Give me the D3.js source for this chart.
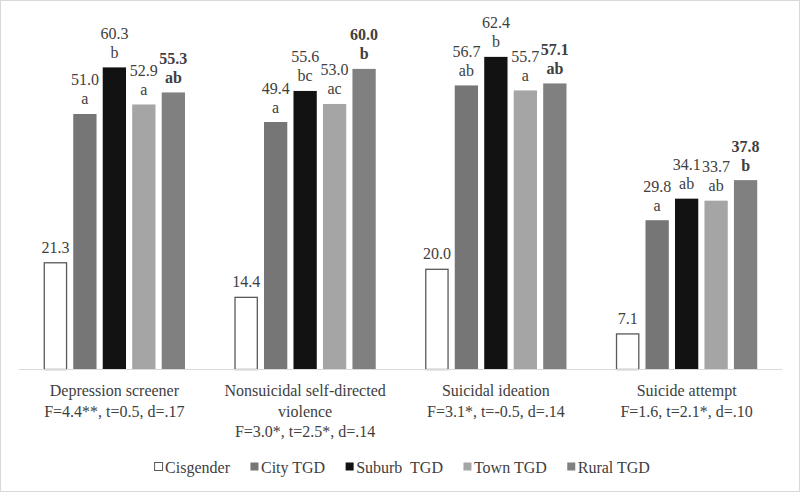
<!DOCTYPE html>
<html><head><meta charset="utf-8"><script src="https://cdn.jsdelivr.net/npm/d3@7"></script></head>
<body style="margin:0">
<svg id="s" width="800" height="492"></svg>
<script>
const categories = ["Depression screener", "Nonsuicidal self-directed violence", "Suicidal ideation", "Suicide attempt"];
const categoryLines = [
  ["Depression screener", "F=4.4**, t=0.5, d=.17"],
  ["Nonsuicidal self-directed", "violence", "F=3.0*, t=2.5*, d=.14"],
  ["Suicidal ideation", "F=3.1*, t=-0.5, d=.14"],
  ["Suicide attempt", "F=1.6, t=2.1*, d=.10"]
];
const seriesNames = ["Cisgender", "City TGD", "Suburb  TGD", "Town TGD", "Rural TGD"];
const cisgender = [21.3, 14.4, 20.0, 7.1];
const cityTGD   = [51.0, 49.4, 56.7, 29.8];
const suburbTGD = [60.3, 55.6, 62.4, 34.1];
const townTGD   = [52.9, 53.0, 55.7, 33.7];
const ruralTGD  = [55.3, 60.0, 57.1, 37.8];
const cityLetters   = ["a", "a", "ab", "a"];
const suburbLetters = ["b", "bc", "b", "ab"];
const townLetters   = ["a", "ac", "a", "ab"];
const ruralLetters  = ["ab", "b", "ab", "b"];

const seriesValues = [cisgender, cityTGD, suburbTGD, townTGD, ruralTGD];
const seriesLetters = [null, cityLetters, suburbLetters, townLetters, ruralLetters];
const fills = ["#ffffff", "#767676", "#121212", "#a5a5a5", "#808080"];
const strokes = ["#595959", "none", "none", "none", "none"];
const textColor = "#404040";

const svg = d3.select("#s");
svg.append("rect").attr("x", 0.5).attr("y", 0.5).attr("width", 799).attr("height", 491)
  .attr("fill", "#fff").attr("stroke", "#d9d9d9");

const x0 = d3.scaleBand().domain(categories).range([19, 782]).paddingInner(0).paddingOuter(0);
const x1 = d3.scaleBand().domain(seriesNames).range([0, x0.bandwidth()]).paddingInner(0.21).paddingOuter(0.84);
const y = d3.scaleLinear().domain([0, 70]).range([369.5, 18.8]);

function styleText(sel) {
  return sel.style("font-family", `"Liberation Serif", serif`)
    .attr("font-size", 16)
    .attr("fill", textColor);
}

seriesNames.forEach((s, si) => {
  const data = categories.map((c, ci) => ({ c, v: seriesValues[si][ci], letter: seriesLetters[si] ? seriesLetters[si][ci] : null }));
  data.forEach(d => {
    svg.append("rect")
      .attr("x", x0(d.c) + x1(s) + (si === 0 ? 0.5 : 0))
      .attr("y", y(d.v))
      .attr("width", x1.bandwidth() - (si === 0 ? 1 : 0))
      .attr("height", y(0) - y(d.v))
      .attr("fill", fills[si])
      .attr("stroke", strokes[si])
      .attr("stroke-width", si === 0 ? 1.3 : 0);
  });
  const bold = si === 4 ? "bold" : "normal";
  data.forEach(d => {
    const xc = x0(d.c) + x1(s) + x1.bandwidth() / 2;
    svg.append("text")
      .attr("x", xc)
      .attr("y", y(d.v) - (d.letter ? 28.5 : 10))
      .attr("text-anchor", "middle")
      .call(styleText)
      .attr("font-weight", bold)
      .text(d.v.toFixed(1));
    if (d.letter) {
      svg.append("text")
        .attr("x", xc)
        .attr("y", y(d.v) - 9.5)
        .attr("text-anchor", "middle")
        .call(styleText)
        .attr("font-weight", bold)
        .text(d.letter);
    }
  });
});

svg.append("line").attr("x1", 19).attr("x2", 782).attr("y1", y(0)).attr("y2", y(0))
  .attr("stroke", "#d9d9d9").attr("stroke-width", 1);

categories.forEach((c, ci) => {
  const cxp = x0(c) + x0.bandwidth() / 2;
  categoryLines[ci].forEach((line, li) => {
    svg.append("text")
      .attr("x", cxp)
      .attr("y", 396 + li * 20.5)
      .attr("text-anchor", "middle")
      .call(styleText)
      .text(line);
  });
});

const legend = svg.append("g");
let cx = 0;
seriesNames.forEach((s, si) => {
  const g = legend.append("g");
  g.append("rect").attr("x", 0.5).attr("y", -4.5).attr("width", 8).attr("height", 8)
    .attr("fill", fills[si]).attr("stroke", si === 0 ? "#595959" : "none").attr("stroke-width", 1);
  const t = g.append("text").attr("x", 11).attr("y", 5.5)
    .call(styleText)
    .style("white-space", "pre").text(s);
  const w = 11 + t.node().getComputedTextLength();
  g.attr("transform", `translate(${cx},0)`);
  cx += w + 20;
});
const totalW = cx - 20;
legend.attr("transform", `translate(${402 - totalW / 2},467)`);
</script></body></html>
